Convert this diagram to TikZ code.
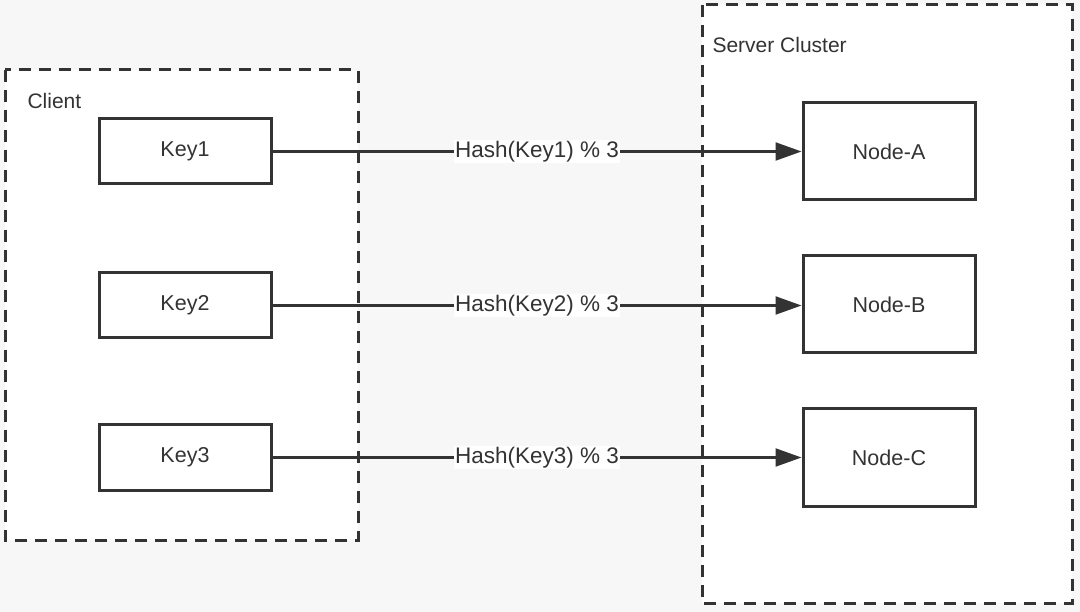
\documentclass[tikz,border=0pt]{standalone}
\usepackage{fontspec}
\setmainfont{Liberation Sans}
\usetikzlibrary{arrows.meta}
\definecolor{ink}{HTML}{333333}
\definecolor{bg}{HTML}{F7F7F7}
\tikzset{
  group/.style={draw=ink, line width=3pt, dash pattern=on 12pt off 8pt, fill=white},
  box/.style={draw=ink, line width=3pt, fill=white, font=\fontsize{21.5}{25}\selectfont, text=ink, inner sep=0pt},
  keybox/.style={box, minimum width=172pt, minimum height=65pt},
  nodebox/.style={box, minimum width=172pt, minimum height=97pt},
  title/.style={anchor=west, font=\fontsize{21}{25}\selectfont, text=ink},
  conn/.style={draw=ink, line width=2.2pt, -{Triangle[length=26pt,width=18pt]}},
  lbl/.style={fill=white, font=\fontsize{22.5}{26}\selectfont, text=ink, inner sep=1pt}
}
\begin{document}
\begin{tikzpicture}[x=1pt,y=-1pt]
\fill[bg] (0,0) rectangle (1080,612);
\useasboundingbox (0,0) rectangle (1080,612);
\draw[group] (5,70) rectangle (358,540);
\draw[group] (702,5) rectangle (1072,603);
\node[title] (client) at (24,101) {Client};
\node[title] (server) at (709,45) {Server Cluster};
\node[keybox] (k1) at (185,151.5) {Key1};
\node[keybox] (k2) at (185,305.5) {Key2};
\node[keybox] (k3) at (185,457.5) {Key3};
\node[nodebox] (na) at (889,151.5) {Node-A};
\node[nodebox] (nb) at (889,304.5) {Node-B};
\node[nodebox] (nc) at (889,457.5) {Node-C};
\draw[conn] (k1.east) -- node[lbl] {Hash(Key1) \% 3} (k1.east -| na.west);
\draw[conn] (k2.east) -- node[lbl] {Hash(Key2) \% 3} (k2.east -| nb.west);
\draw[conn] (k3.east) -- node[lbl] {Hash(Key3) \% 3} (k3.east -| nc.west);
\end{tikzpicture}
\end{document}
